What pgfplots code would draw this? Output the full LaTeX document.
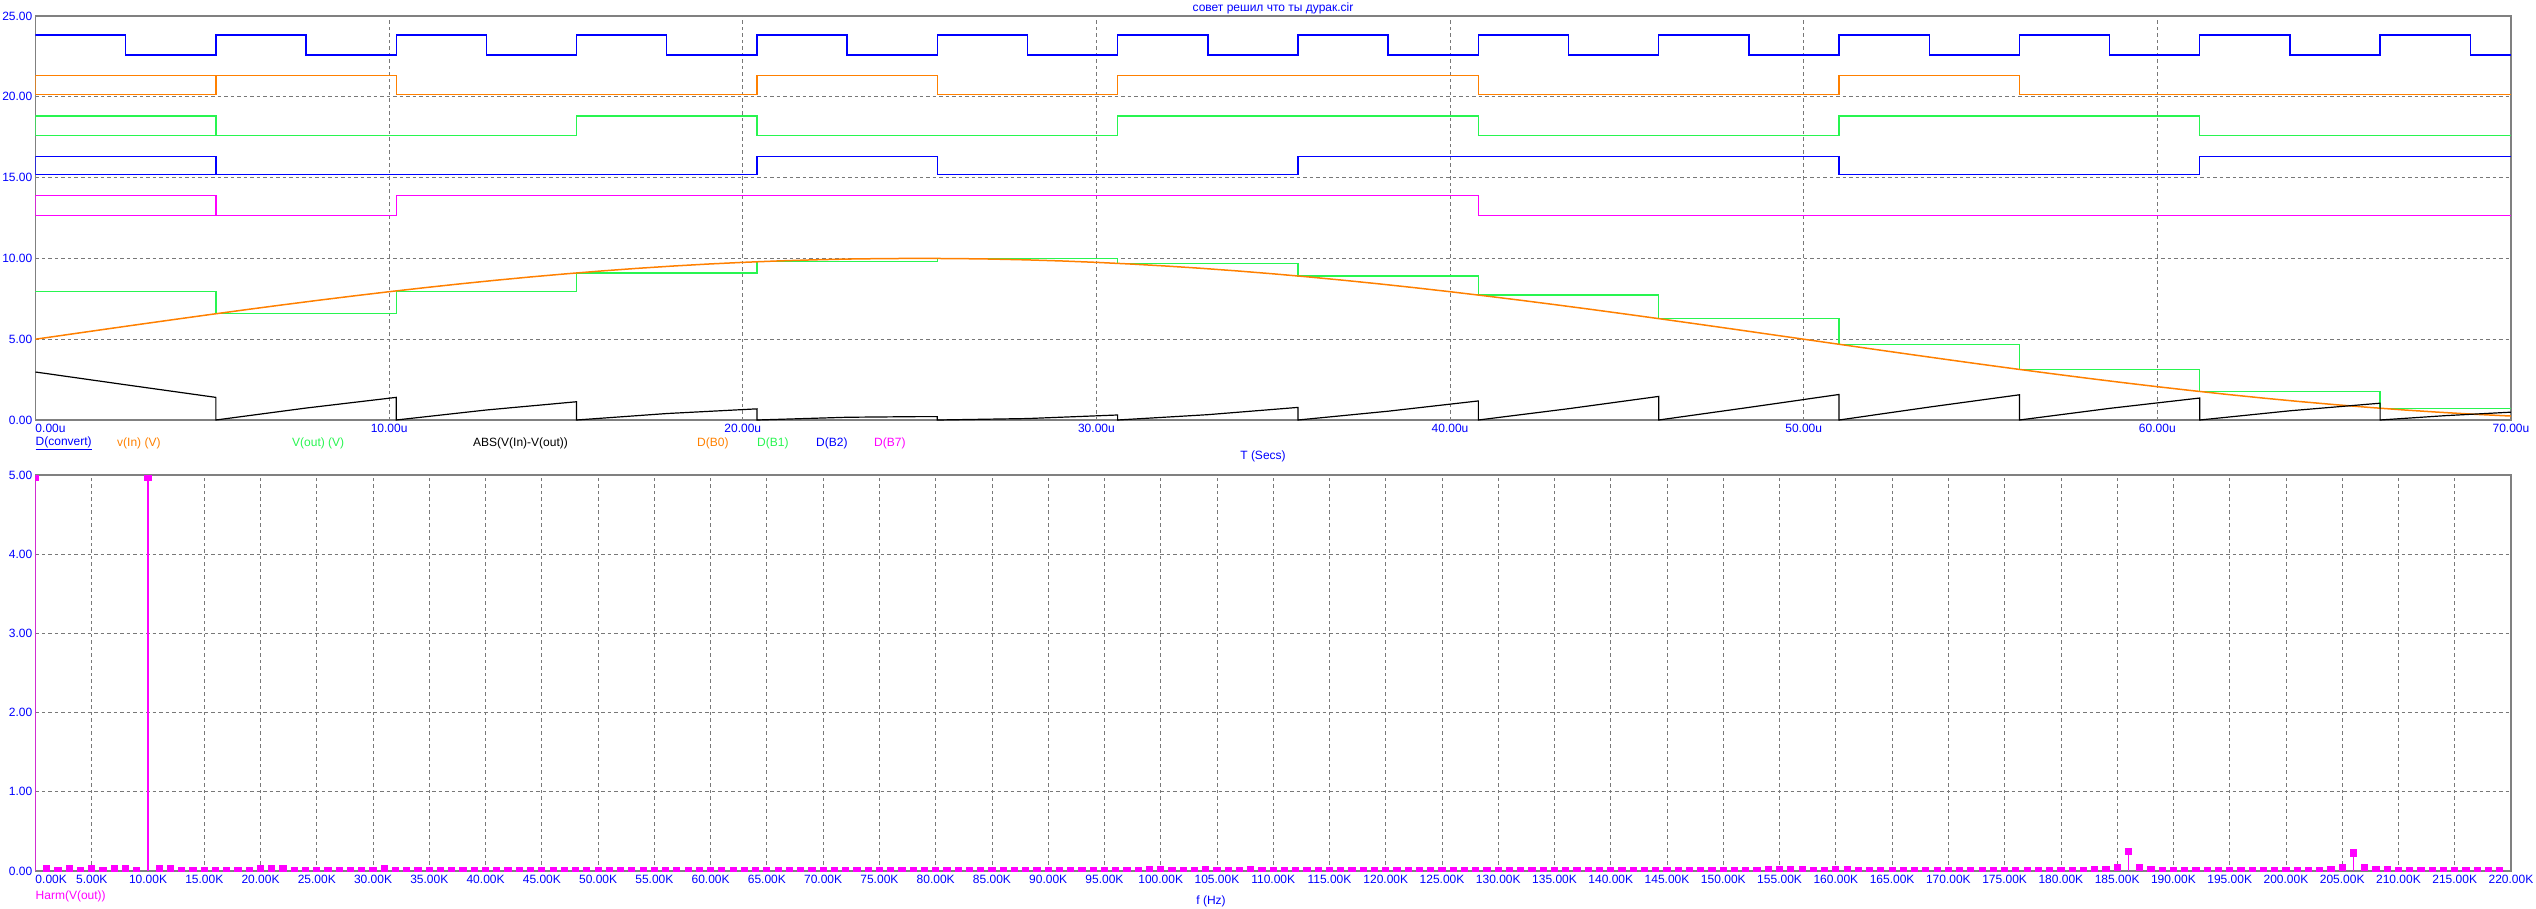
\documentclass[border=0pt]{standalone}
\usepackage{pgfplots}
\pgfplotsset{compat=1.18}
\usepackage{fontspec}
\setmainfont{Liberation Sans}
\definecolor{tblue}{RGB}{0,0,255}
\definecolor{torange}{RGB}{255,128,0}
\definecolor{tgreen}{RGB}{40,245,80}
\definecolor{tmag}{RGB}{255,0,255}
\definecolor{axgray}{RGB}{128,128,128}
\definecolor{gridgray}{RGB}{120,120,120}
\newcommand{\lf}{\fontsize{12}{14}\selectfont}
\begin{document}
\begin{tikzpicture}
\pgfplotsset{
  scopebase/.style={
    scale only axis, anchor=north west,
    axis line style={draw=axgray, line width=1.2pt},
    major tick length=0pt,
    grid=major,
    major grid style={draw=gridgray, dash pattern=on 3.5pt off 3pt, line width=0.8pt},
    tick label style={font=\lf, text=tblue},
    xticklabel style={anchor=north, inner sep=0pt, yshift=-4pt},
    yticklabel style={anchor=east, inner sep=0pt, xshift=-3pt},
  }
}
% ---------------- top plot ----------------
\begin{axis}[scopebase,
  at={(35.5pt,-16pt)}, width=2475.5pt, height=404pt,
  xmin=0, xmax=70, ymin=0, ymax=25,
  xtick={0,10,20,30,40,50,60,70},
  xticklabels={\rlap{0.00u},10.00u,20.00u,30.00u,40.00u,50.00u,60.00u,70.00u},
  ytick={0,5,10,15,20,25},
  yticklabels={0.00,5.00,10.00,15.00,20.00,25.00},
]
% D(convert)
\addplot[tblue, line width=1.4pt, const plot] coordinates {
(0,23.83)(2.55,22.58)(5.1,23.83)(7.65,22.58)(10.2,23.83)(12.75,22.58)(15.3,23.83)(17.85,22.58)
(20.4,23.83)(22.95,22.58)(25.5,23.83)(28.05,22.58)(30.6,23.83)(33.15,22.58)(35.7,23.83)(38.25,22.58)
(40.8,23.83)(43.35,22.58)(45.9,23.83)(48.45,22.58)(51.0,23.83)(53.55,22.58)(56.1,23.83)(58.65,22.58)
(61.2,23.83)(63.75,22.58)(66.3,23.83)(68.85,22.58)(70,22.58)};
% D(B0)
\addplot[torange, line width=1.4pt] coordinates {(0,20.15)(0,21.32)(5.1,21.32)(5.1,20.15)(0,20.15)};
\addplot[torange, line width=1.4pt, const plot] coordinates {
(5.1,21.32)(10.2,20.15)(15.3,20.15)(20.4,21.32)(25.5,20.15)(30.6,21.32)(35.7,21.32)(40.8,20.15)
(45.9,20.15)(51.0,21.32)(56.1,20.15)(61.2,20.15)(66.3,20.15)(70,20.15)};
% D(B1)
\addplot[tgreen, line width=1.4pt] coordinates {(0,17.62)(0,18.8)(5.1,18.8)(5.1,17.62)(0,17.62)};
\addplot[tgreen, line width=1.4pt, const plot] coordinates {
(5.1,17.62)(10.2,17.62)(15.3,18.8)(20.4,17.62)(25.5,17.62)(30.6,18.8)(35.7,18.8)(40.8,17.62)
(45.9,17.62)(51.0,18.8)(56.1,18.8)(61.2,17.62)(66.3,17.62)(70,17.62)};
% D(B2)
\addplot[tblue, line width=1.4pt] coordinates {(0,15.2)(0,16.3)(5.1,16.3)(5.1,15.2)(0,15.2)};
\addplot[tblue, line width=1.4pt, const plot] coordinates {
(5.1,15.2)(10.2,15.2)(15.3,15.2)(20.4,16.3)(25.5,15.2)(30.6,15.2)(35.7,16.3)(40.8,16.3)
(45.9,16.3)(51.0,15.2)(56.1,15.2)(61.2,16.3)(66.3,16.3)(70,16.3)};
% D(B7)
\addplot[tmag, line width=1.4pt] coordinates {(0,12.65)(0,13.88)(5.1,13.88)(5.1,12.65)(0,12.65)};
\addplot[tmag, line width=1.4pt, const plot] coordinates {
(5.1,12.65)(10.2,13.88)(15.3,13.88)(20.4,13.88)(25.5,13.88)(30.6,13.88)(35.7,13.88)(40.8,12.65)(70,12.65)};
% V(out)
\addplot[tgreen, line width=1.3pt] coordinates {
(0,7.97)(5.1,7.97)(5.1,6.57)(10.2,6.57)(10.2,7.97)(15.3,7.97)(15.3,9.10)(20.4,9.10)(20.4,9.79)(25.5,9.79)
(25.5,10.0)(30.6,10.0)(30.6,9.69)(35.7,9.69)(35.7,8.91)(40.8,8.91)(40.8,7.73)(45.9,7.73)(45.9,6.27)(51,6.27)
(51,4.69)(56.1,4.69)(56.1,3.13)(61.2,3.13)(61.2,1.77)(66.3,1.77)(66.3,0.73)(70,0.73)};
% v(In)
\addplot[torange, line width=1.5pt] coordinates {
(0,5.000)(1,5.314)(2,5.627)(3,5.937)(4,6.243)(5,6.545)(6,6.841)(7,7.129)(8,7.409)(9,7.679)
(10,7.939)(11,8.187)(12,8.423)(13,8.645)(14,8.853)(15,9.045)(16,9.222)(17,9.382)(18,9.524)(19,9.649)
(20,9.755)(21,9.843)(22,9.911)(23,9.961)(24,9.990)(25,10.000)(26,9.990)(27,9.961)(28,9.911)(29,9.843)
(30,9.755)(31,9.649)(32,9.524)(33,9.382)(34,9.222)(35,9.045)(36,8.853)(37,8.645)(38,8.423)(39,8.187)
(40,7.939)(41,7.679)(42,7.409)(43,7.129)(44,6.841)(45,6.545)(46,6.243)(47,5.937)(48,5.627)(49,5.314)
(50,5.000)(51,4.686)(52,4.373)(53,4.063)(54,3.757)(55,3.455)(56,3.159)(57,2.871)(58,2.591)(59,2.321)
(60,2.061)(61,1.813)(62,1.577)(63,1.355)(64,1.147)(65,0.955)(66,0.778)(67,0.618)(68,0.476)(69,0.351)(70,0.245)};
% ABS(V(In)-V(out))
\addplot[black, line width=1.2pt] coordinates {
(0,2.97)(2.55,2.18)(5.1,1.40)(5.1,0)(7.65,0.74)(10.2,1.40)(10.2,0)(12.75,0.62)(15.3,1.13)
(15.3,0)(17.85,0.40)(20.4,0.69)(20.4,0)(22.95,0.17)(25,0.21)(25.5,0.21)(25.5,0)(28.05,0.09)(30.6,0.31)
(30.6,0)(33.15,0.33)(35.7,0.78)(35.7,0)(38.25,0.545)(40.8,1.18)(40.8,0)(43.35,0.70)(45.9,1.46)
(45.9,0)(48.45,0.78)(51,1.58)(51,0)(53.55,0.80)(56.1,1.56)(56.1,0)(58.65,0.72)(61.2,1.36)
(61.2,0)(63.75,0.57)(66.3,1.04)(66.3,0)(68.15,0.27)(70,0.485)};
\end{axis}
% ---------------- bottom plot ----------------
\begin{axis}[scopebase,
  at={(35.5pt,-475pt)}, width=2475.5pt, height=396pt,
  xmin=0, xmax=220, ymin=0, ymax=5,
  xtick={0,5,...,220},
  xticklabels={\rlap{0.00K},5.00K,10.00K,15.00K,20.00K,25.00K,30.00K,35.00K,40.00K,45.00K,50.00K,55.00K,60.00K,65.00K,70.00K,75.00K,80.00K,85.00K,90.00K,95.00K,100.00K,105.00K,110.00K,115.00K,120.00K,125.00K,130.00K,135.00K,140.00K,145.00K,150.00K,155.00K,160.00K,165.00K,170.00K,175.00K,180.00K,185.00K,190.00K,195.00K,200.00K,205.00K,210.00K,215.00K,220.00K},
  ytick={0,1,2,3,4,5},
  yticklabels={0.00,1.00,2.00,3.00,4.00,5.00},
  clip marker paths=true,
]
\addplot[tmag, line width=1.2pt, ycomb, mark=square*, mark size=3pt, mark options={solid, fill=tmag, draw=tmag}] coordinates {
(0,4.97)(1,0.025)(2,0.008)(3,0.025)(4,0.008)(5,0.025)(6,0.008)(7,0.025)(8,0.025)(9,0.008)
(10,4.97)(11,0.025)(12,0.025)(13,0.008)(14,0.008)(15,0.008)(16,0.008)(17,0.008)(18,0.008)(19,0.008)
(20,0.025)(21,0.025)(22,0.025)(23,0.008)(24,0.008)(25,0.008)(26,0.008)(27,0.008)(28,0.008)(29,0.008)
(30,0.008)(31,0.025)(32,0.008)(33,0.008)(34,0.008)(35,0.008)(36,0.008)(37,0.008)(38,0.008)(39,0.008)
(40,0.008)(41,0.008)(42,0.008)(43,0.008)(44,0.008)(45,0.008)(46,0.008)(47,0.008)(48,0.008)(49,0.008)
(50,0.008)(51,0.008)(52,0.008)(53,0.008)(54,0.008)(55,0.008)(56,0.008)(57,0.008)(58,0.008)(59,0.008)
(60,0.008)(61,0.008)(62,0.008)(63,0.008)(64,0.008)(65,0.008)(66,0.008)(67,0.008)(68,0.008)(69,0.008)
(70,0.008)(71,0.008)(72,0.008)(73,0.008)(74,0.008)(75,0.008)(76,0.008)(77,0.008)(78,0.008)(79,0.008)
(80,0.008)(81,0.008)(82,0.008)(83,0.008)(84,0.008)(85,0.008)(86,0.008)(87,0.008)(88,0.008)(89,0.008)
(90,0.008)(91,0.008)(92,0.008)(93,0.008)(94,0.008)(95,0.008)(96,0.008)(97,0.008)(98,0.008)(99,0.02)
(100,0.02)(101,0.008)(102,0.008)(103,0.008)(104,0.02)(105,0.008)(106,0.008)(107,0.008)(108,0.02)(109,0.008)
(110,0.008)(111,0.008)(112,0.008)(113,0.008)(114,0.008)(115,0.008)(116,0.008)(117,0.008)(118,0.008)(119,0.008)
(120,0.008)(121,0.008)(122,0.008)(123,0.008)(124,0.008)(125,0.008)(126,0.008)(127,0.008)(128,0.008)(129,0.008)
(130,0.008)(131,0.008)(132,0.008)(133,0.008)(134,0.008)(135,0.008)(136,0.008)(137,0.008)(138,0.008)(139,0.008)
(140,0.008)(141,0.008)(142,0.008)(143,0.008)(144,0.008)(145,0.008)(146,0.008)(147,0.008)(148,0.008)(149,0.008)
(150,0.008)(151,0.008)(152,0.008)(153,0.008)(154,0.02)(155,0.02)(156,0.02)(157,0.02)(158,0.008)(159,0.008)
(160,0.02)(161,0.02)(162,0.008)(163,0.008)(164,0.008)(165,0.008)(166,0.008)(167,0.008)(168,0.008)(169,0.008)
(170,0.008)(171,0.008)(172,0.008)(173,0.008)(174,0.008)(175,0.008)(176,0.008)(177,0.008)(178,0.008)(179,0.008)
(180,0.008)(181,0.008)(182,0.008)(183,0.02)(184,0.02)(185,0.04)(186,0.25)(187,0.04)(188,0.02)(189,0.008)
(190,0.008)(191,0.008)(192,0.008)(193,0.008)(194,0.008)(195,0.008)(196,0.008)(197,0.008)(198,0.008)(199,0.008)
(200,0.008)(201,0.008)(202,0.008)(203,0.008)(204,0.02)(205,0.04)(206,0.227)(207,0.04)(208,0.02)(209,0.02)
(210,0.008)(211,0.008)(212,0.008)(213,0.008)(214,0.008)(215,0.008)(216,0.008)(217,0.008)(218,0.008)(219,0.008)};
\end{axis}
% ---------------- texts ----------------
\node[font=\lf, text=tblue, anchor=center] at (1273pt,-8pt) {совет решил что ты дурак.cir};
\node[font=\lf, text=tblue, anchor=west, inner sep=0pt] at (35.5pt,-443pt) {\underline{D(convert)}};
\node[font=\lf, text=torange, anchor=west, inner sep=0pt] at (117pt,-443pt) {v(In) (V)};
\node[font=\lf, text=tgreen, anchor=west, inner sep=0pt] at (292pt,-443pt) {V(out) (V)};
\node[font=\lf, text=black, anchor=west, inner sep=0pt] at (473pt,-443pt) {ABS(V(In)-V(out))};
\node[font=\lf, text=torange, anchor=west, inner sep=0pt] at (697pt,-443pt) {D(B0)};
\node[font=\lf, text=tgreen, anchor=west, inner sep=0pt] at (757pt,-443pt) {D(B1)};
\node[font=\lf, text=tblue, anchor=west, inner sep=0pt] at (816pt,-443pt) {D(B2)};
\node[font=\lf, text=tmag, anchor=west, inner sep=0pt] at (874pt,-443pt) {D(B7)};
\node[font=\lf, text=tblue, anchor=center, inner sep=0pt] at (1263pt,-456pt) {T (Secs)};
\node[font=\lf, text=tmag, anchor=west, inner sep=0pt] at (35.5pt,-896pt) {Harm(V(out))};
\node[font=\lf, text=tblue, anchor=south, inner sep=0pt] at (1211pt,-907pt) {f (Hz)};
\pgfresetboundingbox
\path[use as bounding box] (0pt,0pt) rectangle (2536pt,-908pt);
\end{tikzpicture}
\end{document}
